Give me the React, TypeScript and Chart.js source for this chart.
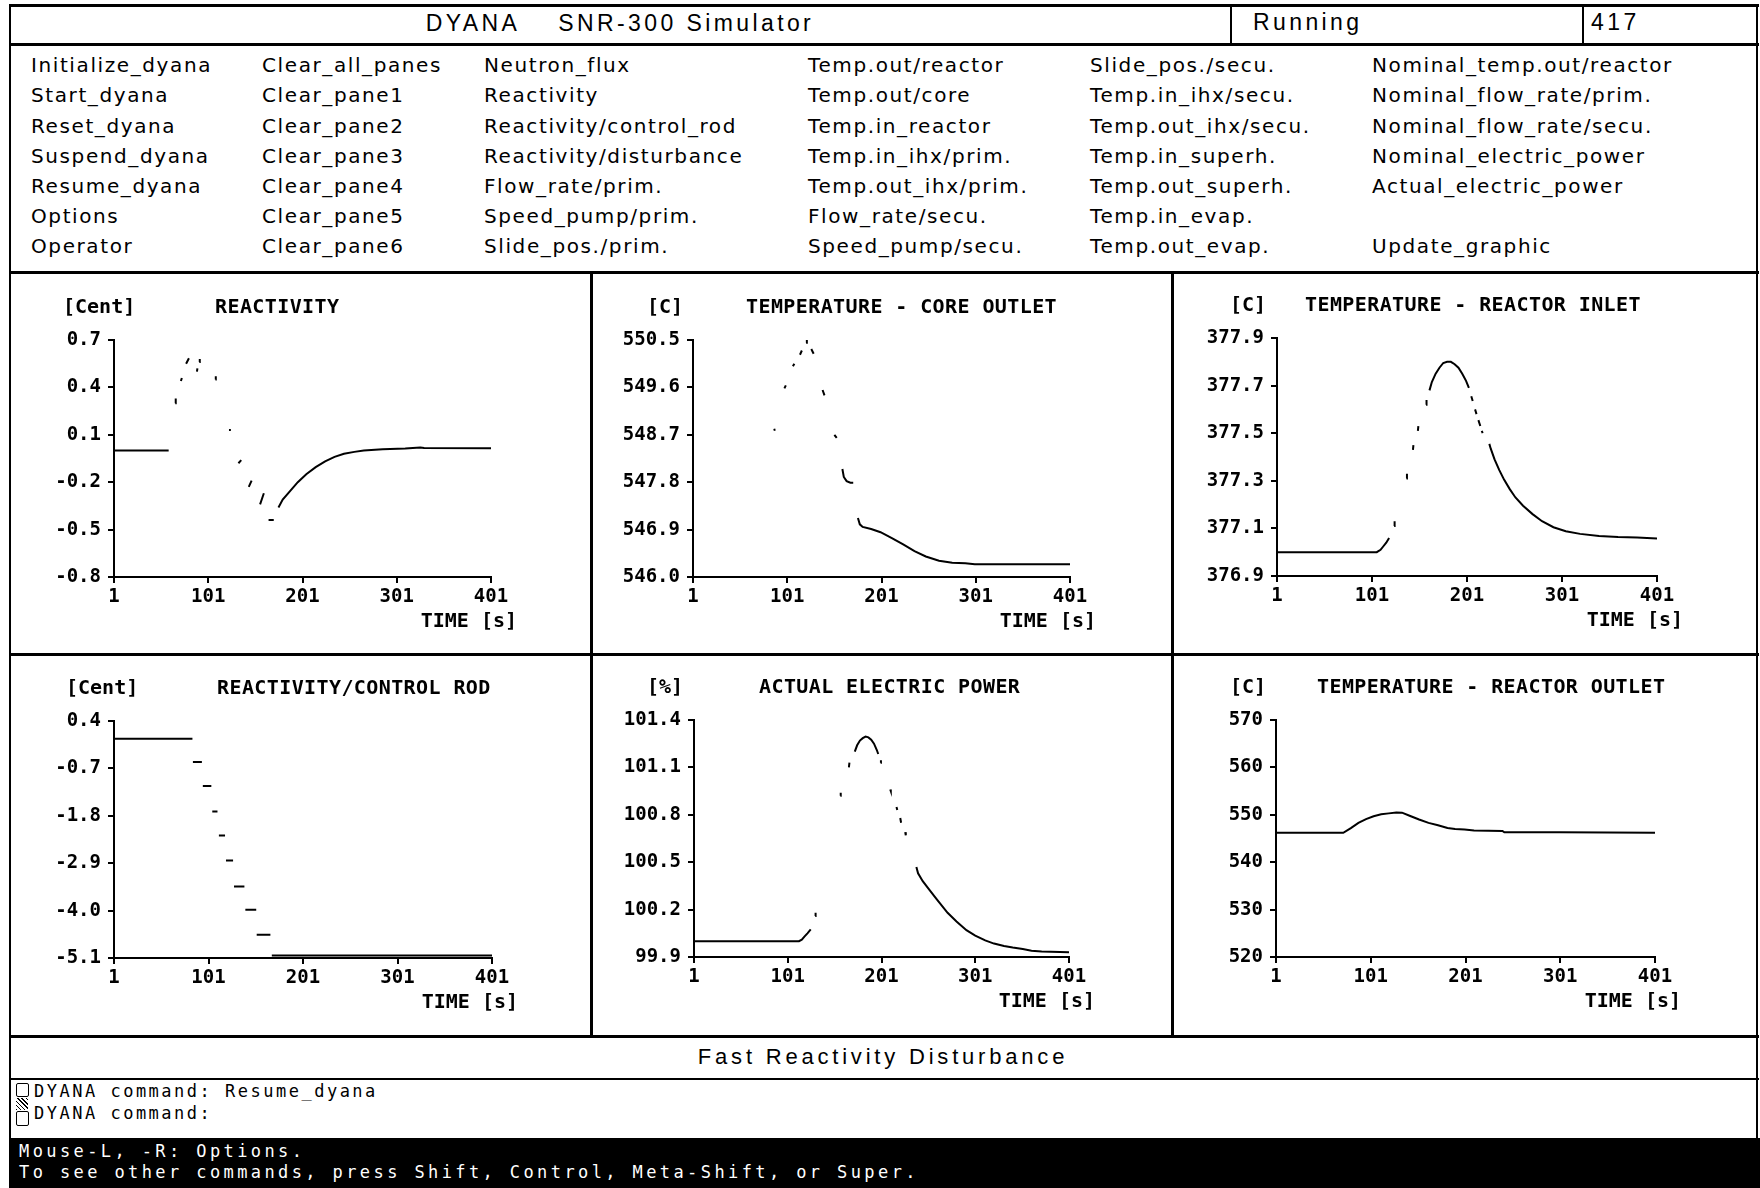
import React, { useEffect, useRef } from "react";
import { Chart, registerables } from "chart.js";

Chart.register(...registerables);

// ---------------- DATA ----------------
const timeTicks = [1, 101, 201, 301, 401];

const menuCol1 = ["Initialize_dyana", "Start_dyana", "Reset_dyana", "Suspend_dyana", "Resume_dyana", "Options", "Operator"];
const menuCol2 = ["Clear_all_panes", "Clear_pane1", "Clear_pane2", "Clear_pane3", "Clear_pane4", "Clear_pane5", "Clear_pane6"];
const menuCol3 = ["Neutron_flux", "Reactivity", "Reactivity/control_rod", "Reactivity/disturbance", "Flow_rate/prim.", "Speed_pump/prim.", "Slide_pos./prim."];
const menuCol4 = ["Temp.out/reactor", "Temp.out/core", "Temp.in_reactor", "Temp.in_ihx/prim.", "Temp.out_ihx/prim.", "Flow_rate/secu.", "Speed_pump/secu."];
const menuCol5 = ["Slide_pos./secu.", "Temp.in_ihx/secu.", "Temp.out_ihx/secu.", "Temp.in_superh.", "Temp.out_superh.", "Temp.in_evap.", "Temp.out_evap."];
const menuCol6 = ["Nominal_temp.out/reactor", "Nominal_flow_rate/prim.", "Nominal_flow_rate/secu.", "Nominal_electric_power", "Actual_electric_power", "", "Update_graphic"];

// Panel 1: Reactivity [Cent]
const reactivityTicks = [-0.8, -0.5, -0.2, 0.1, 0.4, 0.7];
const reactivitySegments = [
  [[1, 0.0], [59, 0.0]],
  [[66, 0.3], [66.5, 0.33]],
  [[72, 0.44], [73, 0.46]],
  [[77.5, 0.55], [80.5, 0.585]],
  [[89, 0.5], [89.5, 0.52]],
  [[91.5, 0.56], [92, 0.58]],
  [[108.6, 0.45], [109, 0.47]],
  [[123, 0.13], [125, 0.13]],
  [[133, -0.08], [136, -0.06]],
  [[144, -0.23], [147, -0.19]],
  [[156, -0.34], [160, -0.27]],
  [[165, -0.44], [170.5, -0.44]],
  [[175.5, -0.36], [180, -0.31], [188, -0.255], [196, -0.2], [205, -0.15], [215, -0.105], [225, -0.068], [235, -0.04], [245, -0.02], [256, -0.008], [266, 0.0], [286, 0.009], [310, 0.014], [326, 0.02], [330, 0.016], [401, 0.015]],
];

// Panel 2: Temperature - core outlet [C]
const coreOutletTicks = [546.0, 546.9, 547.8, 548.7, 549.6, 550.5];
const coreOutletSegments = [
  [[1, 546.0], [84, 546.0]],
  [[86.5, 548.79], [88.5, 548.8]],
  [[98, 549.58], [99.5, 549.64]],
  [[107, 550.0], [108.5, 550.05]],
  [[114.5, 550.22], [116.5, 550.3]],
  [[121, 550.45], [121.8, 550.5]],
  [[126.5, 550.33], [129, 550.24]],
  [[138.5, 549.55], [140.5, 549.45]],
  [[151, 548.7], [153.5, 548.64]],
  [[159.5, 548.05], [161, 547.9], [164, 547.82], [168, 547.79], [171, 547.79]],
  [[176, 547.12], [178, 547.0], [181, 546.95], [190, 546.91], [200, 546.85], [212, 546.74], [224, 546.62], [236, 546.49], [248, 546.39], [262, 546.31], [276, 546.27], [290, 546.26], [300, 546.24], [401, 546.24]],
];

// Panel 3: Temperature - reactor inlet [C]
const reactorInletTicks = [376.9, 377.1, 377.3, 377.5, 377.7, 377.9];
const reactorInletSegments = [
  [[1, 377.0], [106, 377.0], [110, 377.01], [113, 377.025], [116, 377.04], [119, 377.06]],
  [[124.3, 377.11], [124.8, 377.13]],
  [[137.3, 377.31], [137.8, 377.33]],
  [[144.1, 377.43], [144.6, 377.45]],
  [[149.3, 377.51], [149.8, 377.53]],
  [[157.9, 377.62], [158.4, 377.64]],
  [[161.5, 377.68], [164, 377.715], [168, 377.75], [172, 377.775], [176, 377.795], [180, 377.8], [184, 377.8], [188, 377.79], [192, 377.775], [196, 377.75], [200, 377.72], [203, 377.69]],
  [[205.5, 377.655], [207, 377.635]],
  [[209.5, 377.6], [211, 377.58]],
  [[213, 377.555], [215, 377.53]],
  [[216.5, 377.51], [217.5, 377.5]],
  [[224.5, 377.455], [226, 377.435], [230, 377.39], [235, 377.345], [240, 377.305], [246, 377.265], [252, 377.23], [260, 377.195], [270, 377.16], [280, 377.13], [292, 377.105], [305, 377.088], [320, 377.077], [340, 377.068], [360, 377.064], [380, 377.062], [401, 377.058]],
];

// Panel 4: Reactivity / control rod [Cent]
const controlRodTicks = [-5.1, -4.0, -2.9, -1.8, -0.7, 0.4];
const controlRodSegments = [
  [[1, -0.01], [84, -0.01]],
  [[84.5, -0.55], [94, -0.55]],
  [[95, -1.11], [104, -1.11]],
  [[105, -1.7], [110.5, -1.7]],
  [[112, -2.26], [118.5, -2.26]],
  [[119.5, -2.84], [127, -2.84]],
  [[128, -3.44], [139, -3.44]],
  [[140, -3.98], [151.5, -3.98]],
  [[152, -4.56], [166.5, -4.56]],
  [[168, -5.04], [401, -5.04]],
];

// Panel 5: Actual electric power [%]
const powerTicks = [99.9, 100.2, 100.5, 100.8, 101.1, 101.4];
const powerSegments = [
  [[1, 100.0], [113, 100.0], [116, 100.01], [119, 100.03], [122, 100.05], [125.5, 100.075]],
  [[130.3, 100.16], [130.7, 100.18]],
  [[157.1, 100.92], [157.5, 100.94]],
  [[166.2, 101.1], [166.8, 101.13]],
  [[172.5, 101.2], [175, 101.24], [178, 101.27], [181, 101.285], [184, 101.295], [187, 101.29], [190, 101.275], [193, 101.25], [196, 101.21], [197.5, 101.185]],
  [[200, 101.13], [200.4, 101.145]],
  [[210.3, 100.96], [210.9, 100.95]],
  [[217, 100.85], [217.8, 100.83]],
  [[221, 100.78], [221.9, 100.75]],
  [[226.3, 100.69], [226.9, 100.67]],
  [[238.2, 100.47], [240, 100.43], [245, 100.38], [251.5, 100.33], [260, 100.265], [271.5, 100.18], [281, 100.125], [291.6, 100.07], [301, 100.035], [311.6, 100.005], [321, 99.985], [331.7, 99.97], [341, 99.96], [351.7, 99.95], [361, 99.94], [371.8, 99.935], [401, 99.93]],
];

// Panel 6: Temperature - reactor outlet [C]
const reactorOutletTicks = [520, 530, 540, 550, 560, 570];
const reactorOutletSegments = [
  [[1, 546.2], [72, 546.2], [80, 547.2], [88, 548.3], [96, 549.1], [104, 549.7], [112, 550.1], [120, 550.3], [128, 550.5], [134, 550.45], [142, 549.8], [152, 549.0], [162, 548.3], [172, 547.8], [182, 547.2], [190, 547.0], [200, 546.9], [210, 546.7], [225, 546.65], [240, 546.6], [242, 546.3], [300, 546.3], [401, 546.2]],
];

// ---------------- CHART PANELS ----------------
type PanelCfg = {
  unit: string;
  title: string;
  yTicks: number[];
  decimals: number;
  segments: number[][][];
  x: number; y: number; w: number; h: number;
  left: number; right: number; top: number; bottom: number;
  unitX: number; titleX: number;
};

const panels: PanelCfg[] = [
  { unit: "[Cent]", title: "REACTIVITY", yTicks: reactivityTicks, decimals: 1, segments: reactivitySegments,
    x: 11, y: 274, w: 579, h: 380, left: 103, right: 480, top: 66, bottom: 303, unitX: -51, titleX: 101 },
  { unit: "[C]", title: "TEMPERATURE - CORE OUTLET", yTicks: coreOutletTicks, decimals: 1, segments: coreOutletSegments,
    x: 593, y: 274, w: 578, h: 380, left: 100, right: 477, top: 66, bottom: 303, unitX: -46, titleX: 53 },
  { unit: "[C]", title: "TEMPERATURE - REACTOR INLET", yTicks: reactorInletTicks, decimals: 1, segments: reactorInletSegments,
    x: 1174, y: 274, w: 582, h: 380, left: 103, right: 483, top: 64, bottom: 302, unitX: -47, titleX: 28 },
  { unit: "[Cent]", title: "REACTIVITY/CONTROL ROD", yTicks: controlRodTicks, decimals: 1, segments: controlRodSegments,
    x: 11, y: 656, w: 579, h: 379, left: 103, right: 481, top: 65, bottom: 302, unitX: -48, titleX: 103 },
  { unit: "[%]", title: "ACTUAL ELECTRIC POWER", yTicks: powerTicks, decimals: 1, segments: powerSegments,
    x: 593, y: 656, w: 578, h: 379, left: 101, right: 476, top: 64, bottom: 301, unitX: -47, titleX: 65 },
  { unit: "[C]", title: "TEMPERATURE - REACTOR OUTLET", yTicks: reactorOutletTicks, decimals: 0, segments: reactorOutletSegments,
    x: 1174, y: 656, w: 582, h: 379, left: 102, right: 481, top: 64, bottom: 301, unitX: -46, titleX: 41 },
];

const MONO = "'DejaVu Sans Mono', 'Liberation Mono', monospace";

function buildData(segs: number[][][]) {
  const out: { x: number; y: number | null }[] = [];
  segs.forEach((seg, i) => {
    if (i > 0) out.push({ x: seg[0][0] - 0.01, y: null });
    seg.forEach(([x, y]) => out.push({ x, y }));
  });
  return out;
}

function PanelChart({ cfg }: { cfg: PanelCfg }) {
  const ref = useRef<HTMLCanvasElement | null>(null);
  useEffect(() => {
    const canvas = ref.current!;
    const textPlugin = {
      id: "panelText",
      afterDraw(chart: any) {
        const { ctx, chartArea } = chart;
        ctx.save();
        ctx.fillStyle = "#000";
        ctx.textBaseline = "middle";
        ctx.font = `bold 20px ${MONO}`;
        ctx.textAlign = "left";
        const ty = chartArea.top - 32;
        ctx.fillText(cfg.unit, chartArea.left + cfg.unitX, ty);
        try { (ctx as any).letterSpacing = "0.4px"; } catch (e) {}
        ctx.fillText(cfg.title, chartArea.left + cfg.titleX, ty);
        try { (ctx as any).letterSpacing = "0px"; } catch (e) {}
        ctx.textAlign = "right";
        ctx.fillText("TIME [s]", chartArea.right + 26, chartArea.bottom + 45);
        ctx.restore();
      },
    };
    const yMin = Math.min(...cfg.yTicks);
    const yMax = Math.max(...cfg.yTicks);
    const chart = new Chart(canvas, {
      type: "line",
      data: {
        datasets: [
          {
            data: buildData(cfg.segments) as any,
            borderColor: "#000",
            borderWidth: 2,
            pointRadius: 0,
            spanGaps: false,
            tension: 0,
            fill: false,
          },
        ],
      },
      options: {
        animation: false,
        responsive: false,
        events: [],
        layout: { padding: { left: 0, top: cfg.top, right: cfg.w - cfg.right, bottom: 0 } },
        plugins: { legend: { display: false }, tooltip: { enabled: false }, title: { display: false } },
        scales: {
          x: {
            type: "linear",
            min: 1,
            max: 401,
            afterBuildTicks: (s: any) => { s.ticks = timeTicks.map((v) => ({ value: v })); },
            afterFit: (s: any) => { s.height = cfg.h - cfg.bottom; },
            grid: { drawOnChartArea: false, drawTicks: true, tickLength: 6, color: "#000", lineWidth: 2 },
            border: { display: true, color: "#000", width: 2 },
            ticks: { color: "#000", font: { family: MONO, size: 19, weight: "bold" }, padding: 3, maxRotation: 0, autoSkip: false, callback: (v: any) => String(v) },
          },
          y: {
            type: "linear",
            min: yMin,
            max: yMax,
            afterBuildTicks: (s: any) => { s.ticks = cfg.yTicks.map((v) => ({ value: v })); },
            afterFit: (s: any) => { s.width = cfg.left; },
            grid: { drawOnChartArea: false, drawTicks: true, tickLength: 6, color: "#000", lineWidth: 2 },
            border: { display: true, color: "#000", width: 2 },
            ticks: { color: "#000", font: { family: MONO, size: 19, weight: "bold" }, padding: 7, autoSkip: false, callback: (v: any) => Number(v).toFixed(cfg.decimals) },
          },
        },
      },
      plugins: [textPlugin],
    } as any);
    return () => chart.destroy();
  }, [cfg]);
  return (
    <canvas
      ref={ref}
      width={cfg.w}
      height={cfg.h}
      style={{ position: "absolute", left: cfg.x, top: cfg.y, width: cfg.w, height: cfg.h }}
    />
  );
}

// ---------------- LAYOUT HELPERS ----------------
function Line({ x, y, w, h, c = "#000" }: { x: number; y: number; w: number; h: number; c?: string }) {
  return <div style={{ position: "absolute", left: x, top: y, width: w, height: h, background: c }} />;
}

function Txt({ x, y, children, style }: { x: number; y: number; children: any; style?: any }) {
  return (
    <div style={{ position: "absolute", left: x, top: y, transform: "translateY(-50%)", whiteSpace: "pre", lineHeight: 1, ...style }}>
      {children}
    </div>
  );
}

const menuCols = [menuCol1, menuCol2, menuCol3, menuCol4, menuCol5, menuCol6];
const menuX = [31, 262, 484, 808, 1090, 1372];
const menuY = [65, 95, 126, 156, 186, 216, 246];

const menuFont = { fontFamily: "'DejaVu Sans', sans-serif", fontSize: 20, letterSpacing: 1.6, color: "#000" };
const headFont = { fontFamily: "'Liberation Sans', Arial, sans-serif", fontSize: 23, letterSpacing: 3.4, color: "#000" };
const cmdFont = { fontFamily: MONO, fontSize: 16, letterSpacing: 2.9, color: "#000" };

export default function App() {
  return (
    <div style={{ position: "absolute", left: 0, top: 0, width: 1760, height: 1188, background: "#fff", overflow: "hidden" }}>
      {/* charts */}
      {panels.map((p, i) => (
        <PanelChart key={i} cfg={p} />
      ))}

      {/* frame */}
      <Line x={9} y={4} w={1750} h={3} />
      <Line x={9} y={4} w={2} h={1136} />
      <Line x={1756} y={4} w={2} h={1136} />
      {/* title bar */}
      <Line x={9} y={43} w={1750} h={3} />
      <Line x={1230} y={4} w={2} h={41} />
      <Line x={1582} y={4} w={2} h={41} />
      {/* menu bottom */}
      <Line x={9} y={271} w={1750} h={3} />
      {/* chart grid */}
      <Line x={9} y={653} w={1750} h={3} />
      <Line x={590} y={272} w={3} h={765} />
      <Line x={1171} y={272} w={3} h={765} />
      <Line x={9} y={1035} w={1750} h={3} />
      {/* status */}
      <Line x={9} y={1078} w={1750} h={2} />
      {/* black bottom bar */}
      <Line x={9} y={1138} w={1751} h={50} />

      <div
        style={{ position: "absolute", left: 620, top: 23, transform: "translate(-50%,-50%)", whiteSpace: "pre", lineHeight: 1, ...headFont }}
      >
        {"DYANA    SNR-300 Simulator"}
      </div>
      <Txt x={1253} y={22} style={headFont}>Running</Txt>
      <Txt x={1591} y={22} style={headFont}>417</Txt>

      {menuCols.map((col, ci) =>
        col.map((item, ri) =>
          item ? (
            <Txt key={ci + "-" + ri} x={menuX[ci]} y={menuY[ri]} style={menuFont}>
              {item}
            </Txt>
          ) : null
        )
      )}

      <div
        style={{ position: "absolute", left: 883, top: 1057, transform: "translate(-50%,-50%)", whiteSpace: "pre", lineHeight: 1, ...headFont, fontSize: 22, letterSpacing: 3.8 }}
      >
        Fast Reactivity Disturbance
      </div>

      {/* command boxes */}
      <div style={{ position: "absolute", left: 16, top: 1083, width: 11, height: 12, border: "1.5px solid #000", borderRadius: 2 }} />
      <div
        style={{
          position: "absolute", left: 16, top: 1098, width: 12, height: 12,
          background: "repeating-linear-gradient(45deg, #000 0 1px, #fff 1px 3px)",
        }}
      />
      <div style={{ position: "absolute", left: 16, top: 1111, width: 11, height: 13, border: "1.5px solid #000", borderRadius: 2 }} />
      <Txt x={34} y={1091} style={{ ...cmdFont, fontSize: 17, letterSpacing: 2.5 }}>DYANA command: Resume_dyana</Txt>
      <Txt x={34} y={1113} style={{ ...cmdFont, fontSize: 17, letterSpacing: 2.5 }}>DYANA command:</Txt>

      <Txt x={19} y={1151} style={{ ...cmdFont, color: "#fff", fontSize: 17, letterSpacing: 3.4 }}>Mouse-L, -R: Options.</Txt>
      <Txt x={19} y={1172} style={{ ...cmdFont, color: "#fff", fontSize: 17, letterSpacing: 3.4 }}>
        To see other commands, press Shift, Control, Meta-Shift, or Super.
      </Txt>
    </div>
  );
}
